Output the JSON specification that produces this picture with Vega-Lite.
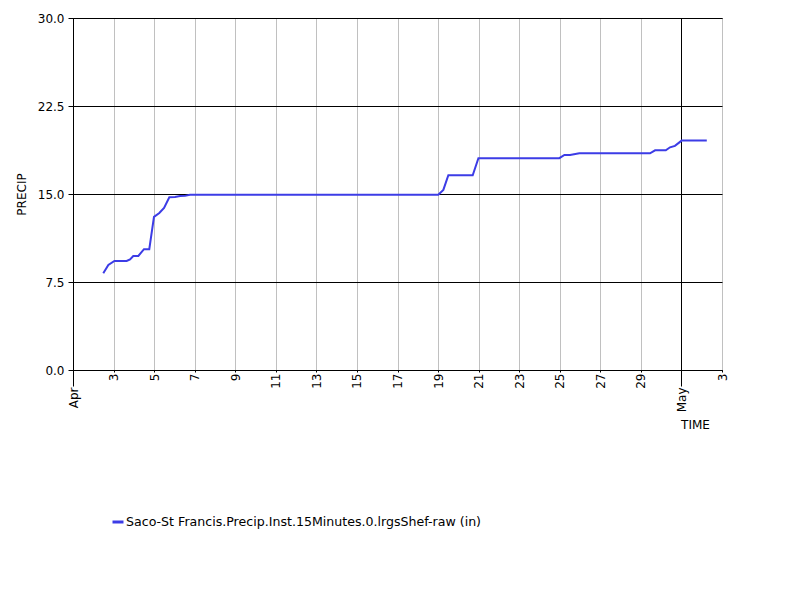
{
  "$schema": "https://vega.github.io/schema/vega-lite/v6.json",
  "width": 649,
  "height": 352,
  "autosize": {"type": "none"},
  "padding": {"left": 73, "top": 18, "right": 78, "bottom": 230},
  "background": "white",
  "config": {
    "view": {"stroke": "black", "strokeWidth": 1},
    "font": "DejaVu Sans",
    "axis": {
      "labelFont": "DejaVu Sans",
      "labelFontSize": 12,
      "labelColor": "black",
      "titleFont": "DejaVu Sans",
      "titleFontSize": 12,
      "titleFontWeight": "normal",
      "titleColor": "black",
      "domainColor": "black",
      "tickColor": "black",
      "gridOpacity": 1
    },
    "legend": {
      "labelFont": "DejaVu Sans",
      "labelFontSize": 12.6,
      "labelColor": "black",
      "labelLimit": 0
    }
  },
  "data": {
    "values": [
      {"time": "2024-04-02T11:50:00", "precip": 8.25},
      {"time": "2024-04-02T17:50:00", "precip": 8.95},
      {"time": "2024-04-03T01:00:00", "precip": 9.3},
      {"time": "2024-04-03T15:30:00", "precip": 9.3},
      {"time": "2024-04-03T19:30:00", "precip": 9.43},
      {"time": "2024-04-03T23:20:00", "precip": 9.72},
      {"time": "2024-04-04T05:20:00", "precip": 9.72},
      {"time": "2024-04-04T12:00:00", "precip": 10.3},
      {"time": "2024-04-04T18:15:00", "precip": 10.3},
      {"time": "2024-04-04T23:50:00", "precip": 13.05},
      {"time": "2024-04-05T06:10:00", "precip": 13.38},
      {"time": "2024-04-05T11:45:00", "precip": 13.82},
      {"time": "2024-04-05T18:00:00", "precip": 14.72},
      {"time": "2024-04-06T00:45:00", "precip": 14.74},
      {"time": "2024-04-06T06:40:00", "precip": 14.82},
      {"time": "2024-04-06T12:30:00", "precip": 14.84},
      {"time": "2024-04-06T18:30:00", "precip": 14.93},
      {"time": "2024-04-19T00:15:00", "precip": 14.93},
      {"time": "2024-04-19T06:15:00", "precip": 15.35},
      {"time": "2024-04-19T12:10:00", "precip": 16.6},
      {"time": "2024-04-20T17:00:00", "precip": 16.6},
      {"time": "2024-04-20T23:45:00", "precip": 18.05},
      {"time": "2024-04-24T23:30:00", "precip": 18.05},
      {"time": "2024-04-25T05:30:00", "precip": 18.33},
      {"time": "2024-04-25T12:10:00", "precip": 18.33},
      {"time": "2024-04-25T23:10:00", "precip": 18.47},
      {"time": "2024-04-29T10:50:00", "precip": 18.47},
      {"time": "2024-04-29T16:50:00", "precip": 18.72},
      {"time": "2024-04-30T05:30:00", "precip": 18.72},
      {"time": "2024-04-30T10:30:00", "precip": 18.98},
      {"time": "2024-04-30T16:20:00", "precip": 19.1},
      {"time": "2024-05-01T00:15:00", "precip": 19.55},
      {"time": "2024-05-02T06:00:00", "precip": 19.55}
    ]
  },
  "mark": {"type": "line", "strokeWidth": 2, "interpolate": "linear"},
  "encoding": {
    "x": {
      "field": "time",
      "type": "temporal",
      "scale": {
        "domain": [
          {"year": 2024, "month": 4, "date": 1},
          {"year": 2024, "month": 5, "date": 3}
        ],
        "nice": false
      },
      "axis": {
        "title": "TIME",
        "titleAnchor": null,
        "titleX": 622,
        "titleY": 54,
        "titleAlign": "center",
        "titleBaseline": "middle",
        "values": [
          {"year": 2024, "month": 4, "date": 1},
          {"year": 2024, "month": 4, "date": 3},
          {"year": 2024, "month": 4, "date": 5},
          {"year": 2024, "month": 4, "date": 7},
          {"year": 2024, "month": 4, "date": 9},
          {"year": 2024, "month": 4, "date": 11},
          {"year": 2024, "month": 4, "date": 13},
          {"year": 2024, "month": 4, "date": 15},
          {"year": 2024, "month": 4, "date": 17},
          {"year": 2024, "month": 4, "date": 19},
          {"year": 2024, "month": 4, "date": 21},
          {"year": 2024, "month": 4, "date": 23},
          {"year": 2024, "month": 4, "date": 25},
          {"year": 2024, "month": 4, "date": 27},
          {"year": 2024, "month": 4, "date": 29},
          {"year": 2024, "month": 5, "date": 1},
          {"year": 2024, "month": 5, "date": 3}
        ],
        "labelExpr": "date(datum.value) == 1 ? timeFormat(datum.value, '%b') : timeFormat(datum.value, '%-d')",
        "labelAngle": 270,
        "labelAlign": "right",
        "labelBaseline": "middle",
        "labelPadding": {"condition": {"test": "date(datum.value) == 1", "value": 1}, "value": 1},
        "tickSize": {"condition": {"test": "date(datum.value) == 1", "value": 16}, "value": 2},
        "grid": true,
        "gridColor": {"condition": {"test": "date(datum.value) == 1", "value": "black"}, "value": "#c0c0c0"},
        "gridWidth": 1,
        "labelOverlap": false,
        "labelBound": false,
        "labelFlush": false
      }
    },
    "y": {
      "field": "precip",
      "type": "quantitative",
      "scale": {"domain": [0, 30], "nice": false, "zero": true},
      "axis": {
        "title": "PRECIP",
        "values": [0, 7.5, 15, 22.5, 30],
        "format": ".1f",
        "tickSize": 5,
        "labelPadding": 4,
        "grid": true,
        "gridColor": "black",
        "gridWidth": 1,
        "titleX": -52,
        "titleY": 176,
        "titleAngle": 270,
        "titleAlign": "center",
        "titleBaseline": "middle",
        "titleAnchor": null
      }
    },
    "color": {
      "datum": "Saco-St Francis.Precip.Inst.15Minutes.0.lrgsShef-raw (in)",
      "type": "nominal",
      "scale": {"range": ["#3c3ce6"]},
      "legend": {
        "title": null,
        "orient": "none",
        "legendX": 38,
        "legendY": 497,
        "symbolType": "stroke",
        "symbolSize": 121,
        "symbolStrokeWidth": 3,
        "labelOffset": 1
      }
    }
  }
}
